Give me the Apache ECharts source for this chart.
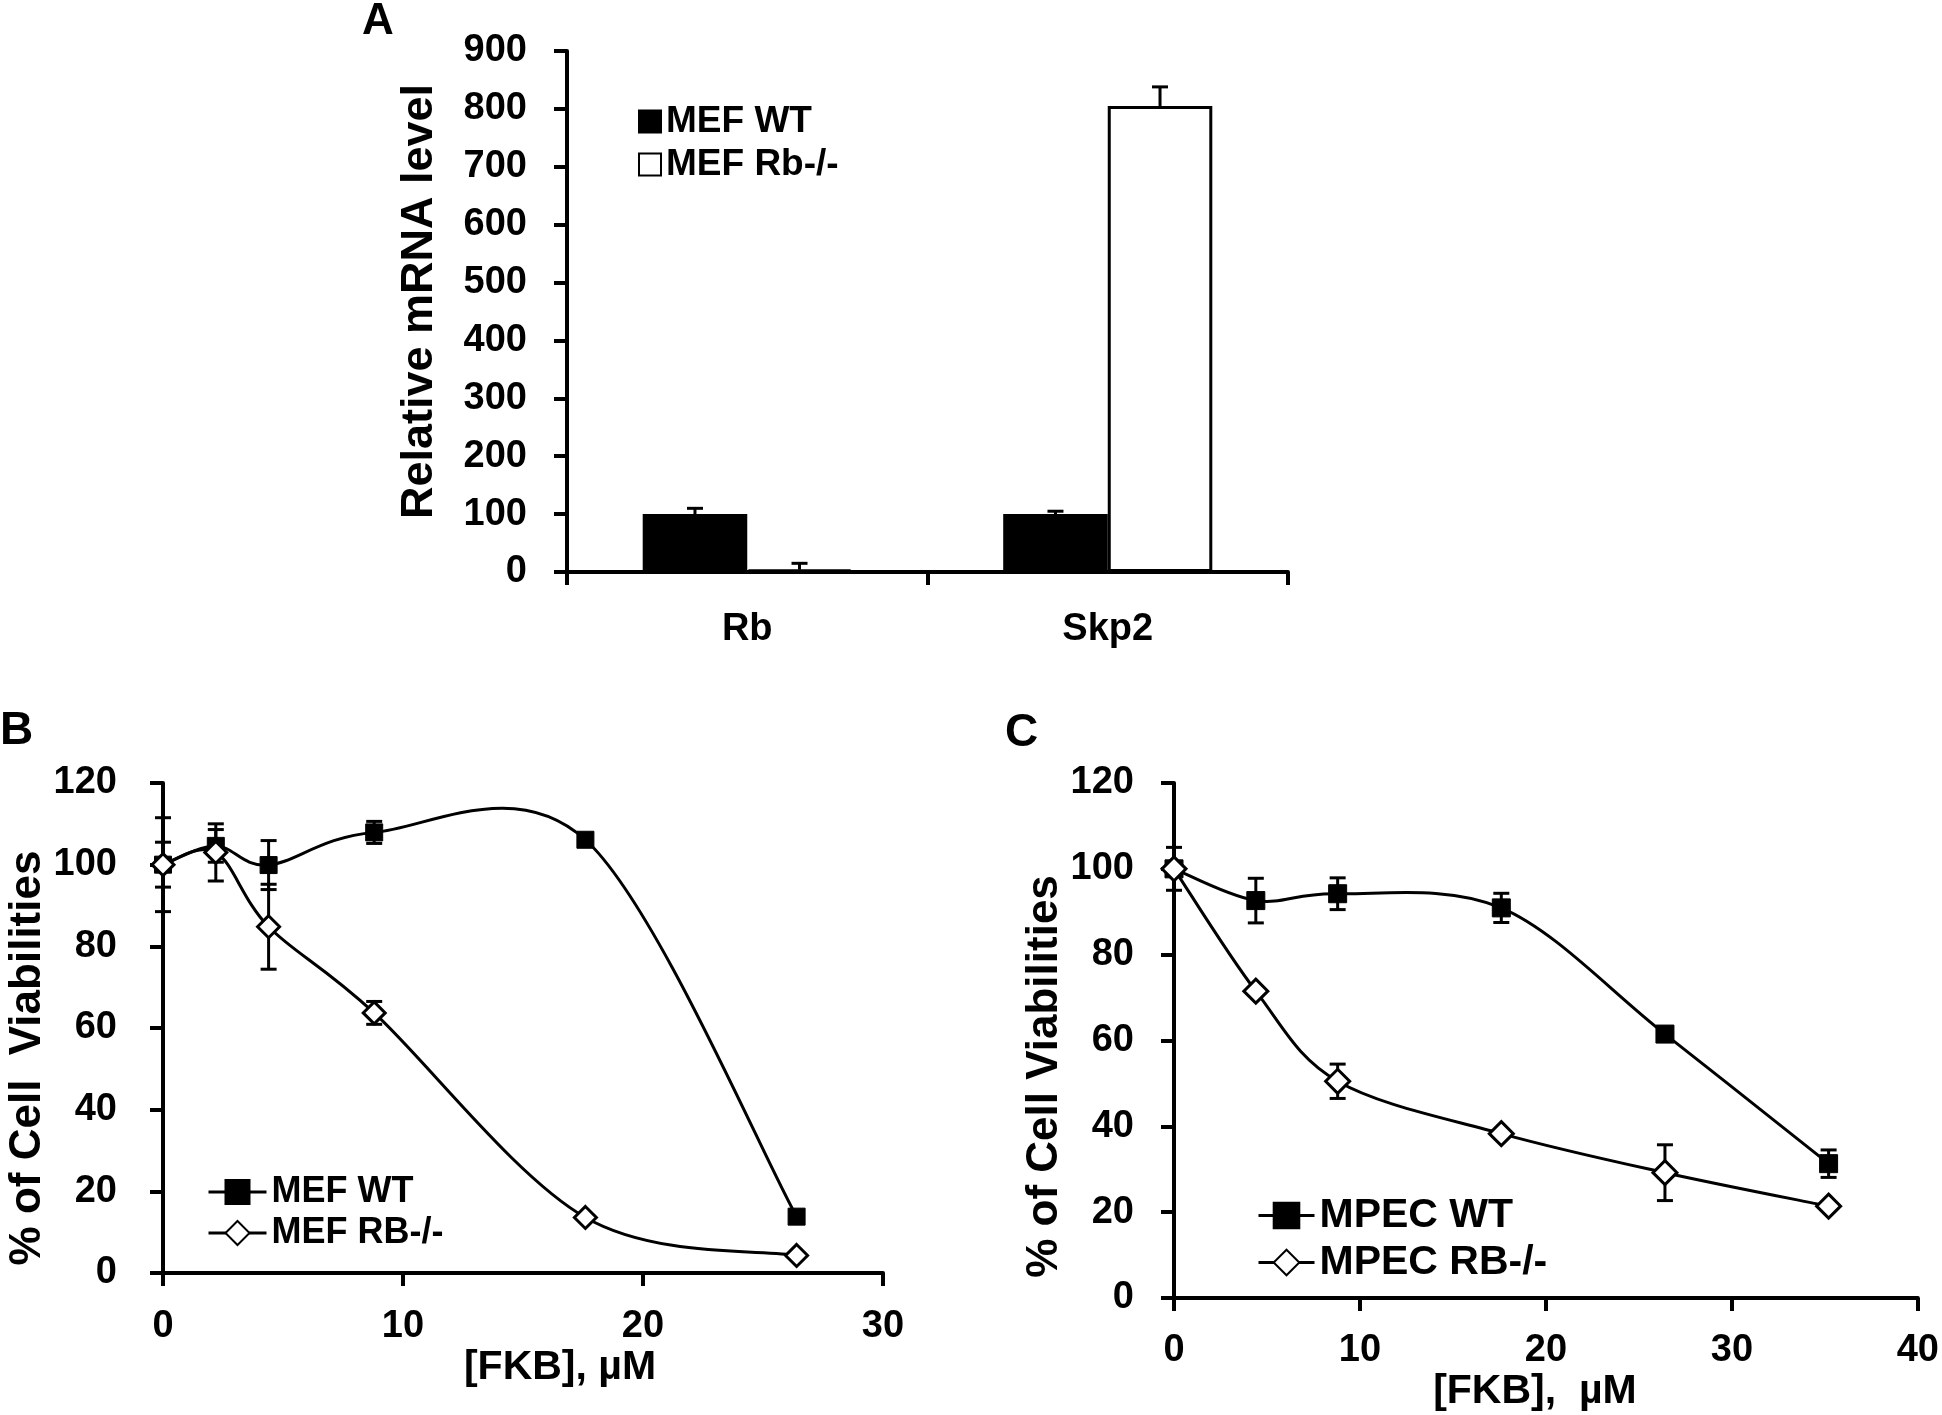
<!DOCTYPE html>
<html><head><meta charset="utf-8">
<script src="https://cdn.jsdelivr.net/npm/echarts@6/dist/echarts.min.js"></script>
<style>html,body{margin:0;padding:0;background:#fff}#c{width:1942px;height:1415px}</style>
</head><body><div id="c"></div>
<script>
// ---------- Panel A data ----------
const catsA = ['Rb', 'Skp2'];
const mefWT = [100, 100];
const mefWTErr = [10, 5];
const mefRb = [4, 805];
const mefRbErr = [11, 33];
const yTicksA = [0, 100, 200, 300, 400, 500, 600, 700, 800, 900];

// ---------- Panel B data ----------
const xB = [0, 2.2, 4.4, 8.8, 17.6, 26.4];
const wtB = [100, 104.6, 99.9, 107.9, 106.1, 13.8];
const wtBErr = [11.5, 4, 6, 2.7, 0, 0];
const rbB = [100, 103, 84.8, 63.7, 13.6, 4.3];
const rbBErr = [5.5, 7, 10.4, 2.8, 0, 0];

// ---------- Panel C data ----------
const xC = [0, 4.4, 8.8, 17.6, 26.4, 35.2];
const wtC = [100, 92.6, 94.2, 90.9, 61.5, 31.3];
const wtCErr = [5, 5.2, 3.7, 3.4, 0, 3.2];
const rbC = [100, 71.5, 50.5, 38.3, 29.2, 21.4];
const rbCErr = [0, 0, 4, 0, 6.5, 0];

const FONT = "'Liberation Sans', Arial, Helvetica, sans-serif";
const BAR_FRAC = 0.29;
const txt = (size) => ({ color: '#000', fontFamily: FONT, fontWeight: 'bold', fontSize: size });

function axisCommon(labelSize, margin) {
  return {
    axisLine: { show: true, onZero: false, lineStyle: { color: '#000', width: 4 } },
    axisTick: { show: true, length: 13, lineStyle: { color: '#000', width: 4 } },
    axisLabel: Object.assign(txt(labelSize), { margin: margin }),
    splitLine: { show: false }
  };
}

function errLine(params, api) {
  const x = api.value(0), y = api.value(1), e = api.value(2);
  if (!e) return null;
  const hi = api.coord([x, y + e]), lo = api.coord([x, y - e]);
  const cw = 8;
  const st = { stroke: '#000', lineWidth: 3 };
  return { type: 'group', children: [
    { type: 'line', shape: { x1: hi[0], y1: hi[1], x2: lo[0], y2: lo[1] }, style: st },
    { type: 'line', shape: { x1: hi[0] - cw, y1: hi[1], x2: hi[0] + cw, y2: hi[1] }, style: st },
    { type: 'line', shape: { x1: lo[0] - cw, y1: lo[1], x2: lo[0] + cw, y2: lo[1] }, style: st }
  ]};
}

function errBar(params, api) {
  const ci = api.value(0), y = api.value(1), e = api.value(2), side = api.value(3);
  const band = api.size([1, 0])[0];
  const off = (side === 0 ? -1 : 1) * band * BAR_FRAC / 2;
  const base = api.coord([ci, y]), hi = api.coord([ci, y + e]);
  const x = base[0] + off;
  const cw = 8;
  const st = { stroke: '#000', lineWidth: 3 };
  return { type: 'group', children: [
    { type: 'line', shape: { x1: x, y1: base[1], x2: x, y2: hi[1] }, style: st },
    { type: 'line', shape: { x1: x - cw, y1: hi[1], x2: x + cw, y2: hi[1] }, style: st }
  ]};
}

// Excel-like smoothed line (Catmull-Rom, tension 1/6) through points mapped by the axes
function smoothRender(xs, ys) {
  return function (params, api) {
    const i = params.dataIndex;
    if (i >= xs.length - 1) return null;
    const n = xs.length;
    const P = (k) => api.coord([xs[Math.max(0, Math.min(n - 1, k))], ys[Math.max(0, Math.min(n - 1, k))]]);
    const p0 = P(i - 1), p1 = P(i), p2 = P(i + 1), p3 = P(i + 2);
    return {
      type: 'bezierCurve',
      shape: {
        x1: p1[0], y1: p1[1], x2: p2[0], y2: p2[1],
        cpx1: p1[0] + (p2[0] - p0[0]) / 6, cpy1: p1[1] + (p2[1] - p0[1]) / 6,
        cpx2: p2[0] - (p3[0] - p1[0]) / 6, cpy2: p2[1] - (p3[1] - p1[1]) / 6
      },
      style: { stroke: '#000', lineWidth: 3, fill: null }
    };
  };
}

const zip = (xs, ys, es) => xs.map((x, i) => [x, ys[i], es[i]]);
const pts = (xs, ys) => xs.map((x, i) => [x, ys[i]]);

const legendLine = { color: '#000', width: 3, opacity: 1 };

const option = {
  animation: false,
  backgroundColor: '#fff',
  graphic: [
    { type: 'text', left: 362, top: 0, style: Object.assign(txt(44), { text: 'A', fill: '#000' }) },
    { type: 'text', left: 0, top: 708, style: Object.assign(txt(46), { text: 'B', fill: '#000' }) },
    { type: 'text', left: 1005, top: 710, style: Object.assign(txt(46), { text: 'C', fill: '#000' }) }
  ],
  grid: [
    { left: 567, top: 51, width: 721, height: 521 },
    { left: 163, top: 783, width: 720, height: 490 },
    { left: 1174, top: 783, width: 746, height: 515 }
  ],
  legend: [
    { left: 638, top: 103, orient: 'vertical', padding: 0, itemWidth: 22, itemHeight: 22, itemGap: 6, icon: 'rect',
      textStyle: Object.assign(txt(37), { lineHeight: 37 }), data: ['MEF WT', 'MEF Rb-/-'] },
    { left: 207, top: 1174, orient: 'vertical', padding: 0, itemWidth: 58, itemHeight: 30, itemGap: 5,
      lineStyle: legendLine,
      textStyle: Object.assign(txt(36), { lineHeight: 36 }), data: ['MEF WT ', 'MEF RB-/-'] },
    { left: 1257, top: 1195, orient: 'vertical', padding: 0, itemWidth: 56, itemHeight: 32, itemGap: 6,
      lineStyle: legendLine,
      textStyle: Object.assign(txt(41), { lineHeight: 41 }), data: ['MPEC WT', 'MPEC RB-/-'] }
  ],
  xAxis: [
    Object.assign(axisCommon(38, 39), { type: 'category', gridIndex: 0, data: catsA }),
    Object.assign(axisCommon(38, 35), { type: 'value', gridIndex: 1, min: 0, max: 30, interval: 10,
      name: '[FKB], \u00B5M', nameLocation: 'middle', nameGap: 66,
      nameTextStyle: Object.assign(txt(41), { padding: [0, 0, 0, 74] }) }),
    Object.assign(axisCommon(38, 34), { type: 'value', gridIndex: 2, min: 0, max: 40, interval: 10,
      name: '[FKB],  \u00B5M', nameLocation: 'middle', nameGap: 64,
      nameTextStyle: Object.assign(txt(41), { padding: [0, 22, 0, 0] }) })
  ],
  yAxis: [
    Object.assign(axisCommon(38, 40), { type: 'value', gridIndex: 0, min: yTicksA[0], max: yTicksA[yTicksA.length - 1], interval: 100,
      name: 'Relative mRNA level', nameLocation: 'middle', nameGap: 125, nameRotate: 90,
      nameTextStyle: Object.assign(txt(45), { padding: [0, 0, 0, 20] }) }),
    Object.assign(axisCommon(38, 46), { type: 'value', gridIndex: 1, min: 0, max: 120, interval: 20,
      name: '% of Cell  Viabilities', nameLocation: 'middle', nameGap: 107, nameRotate: 90,
      nameTextStyle: Object.assign(txt(44), { padding: [0, 60, 0, 0] }) }),
    Object.assign(axisCommon(38, 40), { type: 'value', gridIndex: 2, min: 0, max: 120, interval: 20,
      name: '% of Cell Viabilities', nameLocation: 'middle', nameGap: 102, nameRotate: 90,
      nameTextStyle: Object.assign(txt(44), { padding: [0, 72, 0, 0] }) })
  ],
  series: [
    { name: 'MEF WT', type: 'bar', xAxisIndex: 0, yAxisIndex: 0, data: mefWT, barWidth: (BAR_FRAC * 100) + '%', barGap: '0%',
      itemStyle: { color: '#000', borderColor: '#000', borderWidth: 3 } },
    { name: 'MEF Rb-/-', type: 'bar', xAxisIndex: 0, yAxisIndex: 0, data: mefRb, barWidth: (BAR_FRAC * 100) + '%', barGap: '0%',
      itemStyle: { color: '#fff', borderColor: '#000', borderWidth: 3 } },
    { type: 'custom', xAxisIndex: 0, yAxisIndex: 0, renderItem: errBar, z: 5,
      data: mefWT.map((v, i) => [i, v, mefWTErr[i], 0]).concat(mefRb.map((v, i) => [i, v, mefRbErr[i], 1])) },

    // Panel B
    { type: 'custom', xAxisIndex: 1, yAxisIndex: 1, renderItem: smoothRender(xB, wtB), z: 1, data: pts(xB, wtB) },
    { type: 'custom', xAxisIndex: 1, yAxisIndex: 1, renderItem: smoothRender(xB, rbB), z: 1, data: pts(xB, rbB) },
    { type: 'custom', xAxisIndex: 1, yAxisIndex: 1, renderItem: errLine, z: 2, data: zip(xB, wtB, wtBErr) },
    { type: 'custom', xAxisIndex: 1, yAxisIndex: 1, renderItem: errLine, z: 2, data: zip(xB, rbB, rbBErr) },
    { name: 'MEF WT ', type: 'line', xAxisIndex: 1, yAxisIndex: 1, z: 3,
      data: pts(xB, wtB), symbol: 'rect', symbolSize: 17,
      lineStyle: { color: '#000', width: 3, opacity: 0 }, itemStyle: { color: '#000', borderColor: '#000', borderWidth: 1 } },
    { name: 'MEF RB-/-', type: 'line', xAxisIndex: 1, yAxisIndex: 1, z: 4,
      data: pts(xB, rbB), symbol: 'diamond', symbolSize: 22,
      lineStyle: { color: '#000', width: 3, opacity: 0 }, itemStyle: { color: '#fff', borderColor: '#000', borderWidth: 3 } },

    // Panel C
    { type: 'custom', xAxisIndex: 2, yAxisIndex: 2, renderItem: smoothRender(xC, wtC), z: 1, data: pts(xC, wtC) },
    { type: 'custom', xAxisIndex: 2, yAxisIndex: 2, renderItem: smoothRender(xC, rbC), z: 1, data: pts(xC, rbC) },
    { type: 'custom', xAxisIndex: 2, yAxisIndex: 2, renderItem: errLine, z: 2, data: zip(xC, wtC, wtCErr) },
    { type: 'custom', xAxisIndex: 2, yAxisIndex: 2, renderItem: errLine, z: 2, data: zip(xC, rbC, rbCErr) },
    { name: 'MPEC WT', type: 'line', xAxisIndex: 2, yAxisIndex: 2, z: 3,
      data: pts(xC, wtC), symbol: 'rect', symbolSize: 18,
      lineStyle: { color: '#000', width: 3, opacity: 0 }, itemStyle: { color: '#000', borderColor: '#000', borderWidth: 1 } },
    { name: 'MPEC RB-/-', type: 'line', xAxisIndex: 2, yAxisIndex: 2, z: 4,
      data: pts(xC, rbC), symbol: 'diamond', symbolSize: 24,
      lineStyle: { color: '#000', width: 3, opacity: 0 }, itemStyle: { color: '#fff', borderColor: '#000', borderWidth: 3 } }
  ]
};

const chart = echarts.init(document.getElementById('c'), null, { renderer: 'canvas' });
chart.setOption(option);
</script></body></html>
